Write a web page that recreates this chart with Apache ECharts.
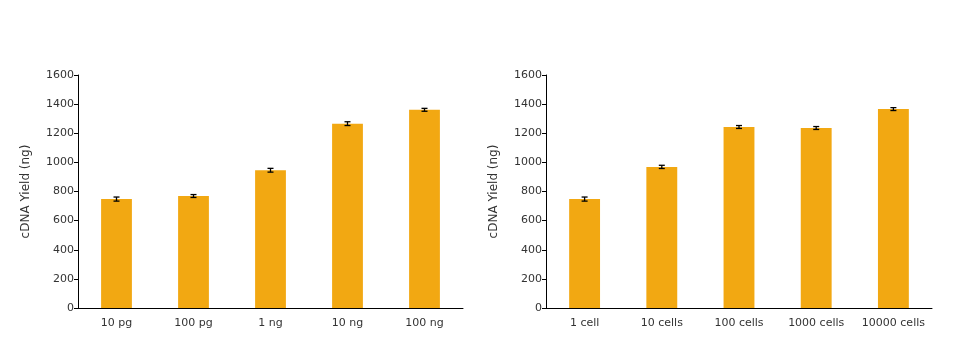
<!DOCTYPE html>
<html><head><meta charset="utf-8">
<script src="https://cdn.jsdelivr.net/npm/echarts@6/dist/echarts.min.js"></script>
<style>html,body{margin:0;padding:0;background:#fff}#c{width:963px;height:342px}</style>
</head><body><div id="c"></div>
<script>
var catsLeft = ['10 pg','100 pg','1 ng','10 ng','100 ng'];
var valsLeft = [748, 769, 946, 1266, 1361];
var errLeft = [14, 10, 13, 13, 10];
var catsRight = ['1 cell','10 cells','100 cells','1000 cells','10000 cells'];
var valsRight = [748, 969, 1243, 1236, 1366];
var errRight = [14, 11, 10, 10, 10];
var yTitle = 'cDNA Yield (ng)';

var FONT = 'DejaVu Sans';
var BAR = '#F2A812';
function errData(vals, errs){ return vals.map(function(v,i){ return [i, v-errs[i], v+errs[i]]; }); }
function renderErr(params, api){
  var x = api.value(0);
  var lo = api.coord([x, api.value(1)]);
  var hi = api.coord([x, api.value(2)]);
  var w = 3;
  var st = {stroke:'#000', lineWidth:1.3};
  return {type:'group', children:[
    {type:'line', shape:{x1:lo[0],y1:lo[1],x2:hi[0],y2:hi[1]}, style:st},
    {type:'line', shape:{x1:lo[0]-w,y1:lo[1],x2:lo[0]+w,y2:lo[1]}, style:st},
    {type:'line', shape:{x1:hi[0]-w,y1:hi[1],x2:hi[0]+w,y2:hi[1]}, style:st}
  ]};
}
function xAx(cats, gi){
  return {type:'category', gridIndex:gi, data:cats,
    axisLine:{lineStyle:{color:'#000', width:1}}, axisTick:{show:false},
    axisLabel:{color:'#333', fontFamily:FONT, fontSize:11, margin:10, interval:0, hideOverlap:false}};
}
function yAx(gi){
  return {type:'value', gridIndex:gi, min:0, max:1600, interval:200,
    name:yTitle, nameLocation:'middle', nameGap:46,
    nameTextStyle:{color:'#333', fontFamily:FONT, fontSize:12},
    axisLine:{show:true, lineStyle:{color:'#000', width:1}},
    axisTick:{show:true, length:4, lineStyle:{color:'#000'}},
    splitLine:{show:false},
    axisLabel:{color:'#333', fontFamily:FONT, fontSize:11, margin:4,
      formatter:function(v){ return String(v); }}};
}
var chart = echarts.init(document.getElementById('c'));
chart.setOption({
  animation:false,
  grid:[{left:78, right:500, top:75, bottom:34},{left:546, right:31, top:75, bottom:34}],
  xAxis:[xAx(catsLeft,0), xAx(catsRight,1)],
  yAxis:[yAx(0), yAx(1)],
  series:[
    {type:'bar', xAxisIndex:0, yAxisIndex:0, data:valsLeft, barWidth:'40%', itemStyle:{color:BAR}},
    {type:'custom', xAxisIndex:0, yAxisIndex:0, data:errData(valsLeft, errLeft), renderItem:renderErr, z:5},
    {type:'bar', xAxisIndex:1, yAxisIndex:1, data:valsRight, barWidth:'40%', itemStyle:{color:BAR}},
    {type:'custom', xAxisIndex:1, yAxisIndex:1, data:errData(valsRight, errRight), renderItem:renderErr, z:5}
  ]
});
</script></body></html>
